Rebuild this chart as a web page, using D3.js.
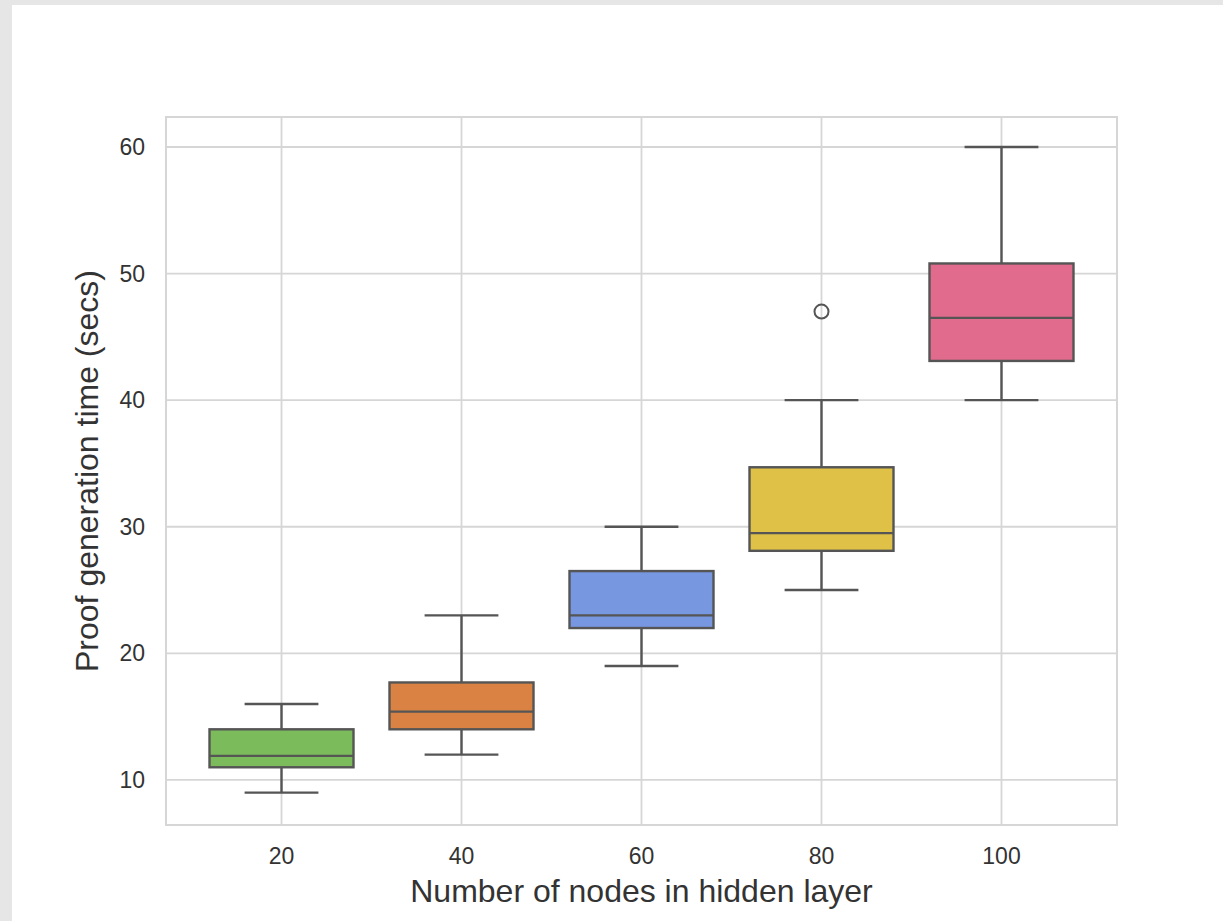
<!DOCTYPE html>
<html>
<head>
<meta charset="utf-8">
<script src="https://cdn.jsdelivr.net/npm/d3@7"></script>
<style>
  html, body { margin: 0; padding: 0; background: #e6e6e6; }
  #chart { position: absolute; left: 12px; top: 5px; }
  text { font-family: "Liberation Sans", Arial, sans-serif; fill: #333; }
</style>
</head>
<body>
<svg id="chart"></svg>
<script>
const categories = ["20", "40", "60", "80", "100"];
const whiskerLow = [9, 12, 19, 25, 40];
const q1 = [11, 14, 22, 28.1, 43.1];
const median = [11.9, 15.4, 23, 29.5, 46.5];
const q3 = [14, 17.7, 26.5, 34.7, 50.8];
const whiskerHigh = [16, 23, 30, 40, 60];
const outliers = [[], [], [], [47], []];
const yTicks = [10, 20, 30, 40, 50, 60];
const boxColors = ["#7cbb5c", "#d98243", "#7797e0", "#dfc148", "#e16b8d"];

const W = 1223 - 12, H = 921 - 5;
const svg = d3.select("#chart").attr("width", W).attr("height", H);
svg.append("rect").attr("width", W).attr("height", H).attr("fill", "#fff");

// plot area in page coords, shifted into svg coords
const plot = { left: 166 - 12, right: 1117 - 12, top: 117 - 5, bottom: 825 - 5 };

const x = d3.scaleBand()
  .domain(categories)
  .range([plot.left, plot.right])
  .paddingInner(0)
  .paddingOuter(0.1417);
const y = d3.scaleLinear().domain([6.44, 62.37]).range([plot.bottom, plot.top]);

const cx = (c) => x(c) + x.bandwidth() / 2;
const boxW = x.bandwidth() * 0.8;
const capW = x.bandwidth() * 0.41;
const grid = "#d6d6d6";
const edge = "#555555";

// grid
const g = svg.append("g");
g.selectAll("line.hgrid").data(yTicks).join("line")
  .attr("x1", plot.left).attr("x2", plot.right)
  .attr("y1", (d) => y(d)).attr("y2", (d) => y(d))
  .attr("stroke", grid).attr("stroke-width", 1.8);
g.selectAll("line.vgrid").data(categories).join("line")
  .attr("class", "vgrid")
  .attr("x1", cx).attr("x2", cx)
  .attr("y1", plot.top).attr("y2", plot.bottom)
  .attr("stroke", grid).attr("stroke-width", 1.8);

// spines
g.append("rect")
  .attr("x", plot.left).attr("y", plot.top)
  .attr("width", plot.right - plot.left).attr("height", plot.bottom - plot.top)
  .attr("fill", "none").attr("stroke", grid).attr("stroke-width", 2);

// tick labels
g.selectAll("text.ytick").data(yTicks).join("text")
  .attr("class", "ytick")
  .attr("x", 145 - 12).attr("y", (d) => y(d))
  .attr("text-anchor", "end").attr("dominant-baseline", "central")
  .attr("font-size", 23).text((d) => d);
g.selectAll("text.xtick").data(categories).join("text")
  .attr("class", "xtick")
  .attr("x", cx).attr("y", 864 - 5)
  .attr("text-anchor", "middle")
  .attr("font-size", 23).text((d) => d);

// axis labels
svg.append("text")
  .attr("x", (plot.left + plot.right) / 2).attr("y", 902 - 5)
  .attr("text-anchor", "middle").attr("font-size", 32)
  .text("Number of nodes in hidden layer");
svg.append("text")
  .attr("transform", `translate(${98 - 12},${(plot.top + plot.bottom) / 2}) rotate(-90)`)
  .attr("text-anchor", "middle").attr("font-size", 32)
  .text("Proof generation time (secs)");

// boxes
const boxes = svg.append("g").selectAll("g.box").data(categories).join("g").attr("class", "box");
boxes.each(function (c, i) {
  const b = d3.select(this);
  const m = cx(c);
  b.append("line").attr("x1", m).attr("x2", m)
    .attr("y1", y(q3[i])).attr("y2", y(whiskerHigh[i]))
    .attr("stroke", edge).attr("stroke-width", 2.4);
  b.append("line").attr("x1", m).attr("x2", m)
    .attr("y1", y(q1[i])).attr("y2", y(whiskerLow[i]))
    .attr("stroke", edge).attr("stroke-width", 2.4);
  [whiskerHigh[i], whiskerLow[i]].forEach((v) => {
    b.append("line").attr("x1", m - capW / 2).attr("x2", m + capW / 2)
      .attr("y1", y(v)).attr("y2", y(v))
      .attr("stroke", edge).attr("stroke-width", 2.4);
  });
  b.append("rect")
    .attr("x", m - boxW / 2).attr("width", boxW)
    .attr("y", y(q3[i])).attr("height", y(q1[i]) - y(q3[i]))
    .attr("fill", boxColors[i]).attr("stroke", edge).attr("stroke-width", 2.4);
  b.append("line").attr("x1", m - boxW / 2).attr("x2", m + boxW / 2)
    .attr("y1", y(median[i])).attr("y2", y(median[i]))
    .attr("stroke", edge).attr("stroke-width", 2.4);
  b.selectAll("circle").data(outliers[i]).join("circle")
    .attr("cx", m).attr("cy", (d) => y(d)).attr("r", 7)
    .attr("fill", "none").attr("stroke", edge).attr("stroke-width", 2);
});
</script>
</body>
</html>
